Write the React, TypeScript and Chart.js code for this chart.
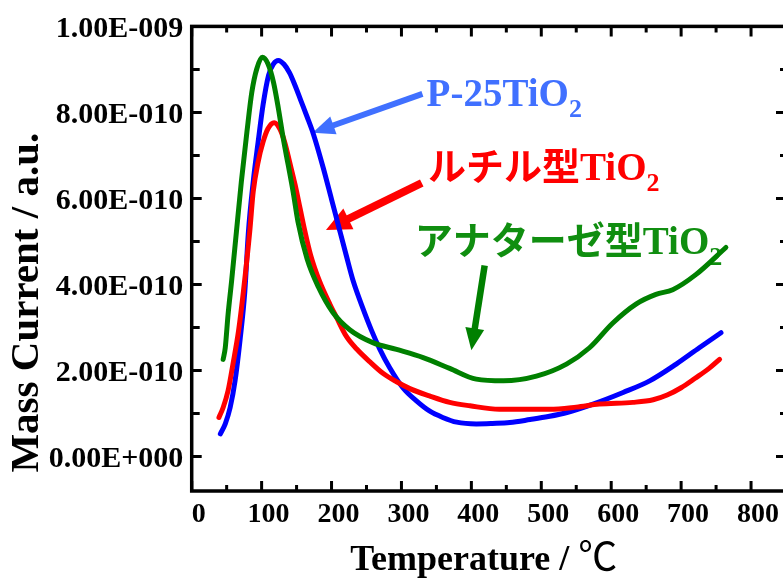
import React, { useEffect, useRef } from 'react';
import { Chart, registerables } from 'chart.js';

Chart.register(...registerables);

// P-25 TiO2
const p25Temp = [41, 48, 55, 62, 69, 76, 81, 88, 95, 102, 110, 117, 124, 132, 140, 148, 156, 165, 174, 188, 200, 210, 221, 231, 245, 257, 269, 283, 302, 321, 340, 359, 379, 407, 430, 455, 484, 510, 538, 574, 617, 655, 693, 726, 757];
const p25Current = [0.53e-10, 0.76e-10, 1.14e-10, 1.76e-10, 2.69e-10, 3.84e-10, 5.2e-10, 6.39e-10, 7.31e-10, 8.17e-10, 8.87e-10, 9.13e-10, 9.21e-10, 9.12e-10, 8.92e-10, 8.62e-10, 8.28e-10, 7.9e-10, 7.5e-10, 6.72e-10, 5.98e-10, 5.36e-10, 4.68e-10, 4.08e-10, 3.44e-10, 2.94e-10, 2.5e-10, 2.07e-10, 1.6e-10, 1.3e-10, 1.06e-10, 0.91e-10, 0.8e-10, 0.76e-10, 0.77e-10, 0.79e-10, 0.86e-10, 0.93e-10, 1.03e-10, 1.22e-10, 1.49e-10, 1.76e-10, 2.15e-10, 2.53e-10, 2.88e-10];

// rutile TiO2
const rutileTemp = [39, 45, 52, 59, 67, 74, 83, 88, 95, 102, 109, 118, 126, 133, 140, 148, 155, 162, 170, 183, 198, 207, 221, 236, 255, 274, 293, 312, 340, 369, 398, 440, 484, 512, 550, 583, 631, 660, 680, 700, 720, 740, 755];
const rutileCurrent = [0.91e-10, 1.14e-10, 1.53e-10, 2.15e-10, 2.92e-10, 3.84e-10, 5.23e-10, 6.16e-10, 6.85e-10, 7.31e-10, 7.62e-10, 7.76e-10, 7.62e-10, 7.31e-10, 6.85e-10, 6.31e-10, 5.77e-10, 5.23e-10, 4.69e-10, 4.07e-10, 3.53e-10, 3.24e-10, 2.8e-10, 2.5e-10, 2.2e-10, 1.93e-10, 1.74e-10, 1.58e-10, 1.41e-10, 1.26e-10, 1.18e-10, 1.1e-10, 1.1e-10, 1.1e-10, 1.15e-10, 1.22e-10, 1.26e-10, 1.32e-10, 1.43e-10, 1.6e-10, 1.82e-10, 2.05e-10, 2.26e-10];

// anatase TiO2
const anataseTemp = [45, 48, 52, 57, 64, 71, 79, 86, 93, 101, 109, 117, 124, 131, 138, 145, 152, 165, 181, 202, 226, 259, 293, 331, 369, 407, 446, 493, 536, 569, 602, 636, 664, 688, 721, 764];
const anataseCurrent = [2.26e-10, 2.53e-10, 3.3e-10, 4.07e-10, 5.23e-10, 6.39e-10, 7.55e-10, 8.47e-10, 9.01e-10, 9.28e-10, 9.13e-10, 8.7e-10, 8.09e-10, 7.39e-10, 6.78e-10, 6.16e-10, 5.46e-10, 4.6e-10, 3.95e-10, 3.35e-10, 2.95e-10, 2.65e-10, 2.49e-10, 2.3e-10, 2.05e-10, 1.8e-10, 1.76e-10, 1.87e-10, 2.15e-10, 2.53e-10, 3.1e-10, 3.55e-10, 3.77e-10, 3.88e-10, 4.23e-10, 4.86e-10];

const xMajorTicks = [0, 100, 200, 300, 400, 500, 600, 700, 800];
const xMinorTicks = [50, 150, 250, 350, 450, 550, 650, 750, 850];
const yMajorTicks = [0, 2e-10, 4e-10, 6e-10, 8e-10, 1e-9];
const yMinorTicks = [1e-10, 3e-10, 5e-10, 7e-10, 9e-10];

const serif = (size: number) => `bold ${size}px "Liberation Serif", "Times New Roman", serif`;
const gothic = (size: number) => `bold ${size}px "Noto Sans CJK JP", sans-serif`;

type Part = { text: string; font: string; dy?: number };
type Note = {
  parts: Part[];
  color: string;
  at: [number, number];
  arrowColor: string;
  from: [number, number];
  to: [number, number];
  width: number;
  headLen: number;
  headWidth: number;
};

const notes: Note[] = [
  {
    parts: [
      { text: 'P-25TiO', font: serif(39) },
      { text: '2', font: serif(26), dy: 11 },
    ],
    color: '#4070ff',
    at: [336, 8.16e-10],
    arrowColor: '#4070ff',
    from: [330, 8.43e-10],
    to: [173, 7.53e-10],
    width: 6,
    headLen: 22,
    headWidth: 19,
  },
  {
    parts: [
      { text: 'ルチル型', font: gothic(38) },
      { text: 'TiO', font: serif(39) },
      { text: '2', font: serif(26), dy: 11 },
    ],
    color: '#ff0000',
    at: [338, 6.42e-10],
    arrowColor: '#ff0000',
    from: [329, 6.36e-10],
    to: [192, 5.27e-10],
    width: 8,
    headLen: 25,
    headWidth: 23,
  },
  {
    parts: [
      { text: 'アナターゼ型', font: gothic(38) },
      { text: 'TiO', font: serif(39) },
      { text: '2', font: serif(26), dy: 11 },
    ],
    color: '#108e10',
    at: [319, 4.71e-10],
    arrowColor: '#008000',
    from: [419, 4.44e-10],
    to: [400, 2.47e-10],
    width: 6.5,
    headLen: 22,
    headWidth: 19,
  },
];

function sciLabel(v: number): string {
  if (Math.abs(v) < 1e-20) return '0.00E+000';
  const e = Math.floor(Math.log10(Math.abs(v)) + 1e-9);
  const m = v / Math.pow(10, e);
  return m.toFixed(2) + 'E' + (e < 0 ? '-' : '+') + String(Math.abs(e)).padStart(3, '0');
}

function series(temp: number[], current: number[]) {
  return temp.map((t, i) => ({ x: t, y: current[i] }));
}

const framePlugin = {
  id: 'frame',
  beforeDatasetsDraw(chart: any) {
    const { ctx, scales } = chart;
    const xs = scales.x;
    const ys = scales.y;
    ctx.save();
    for (const n of notes) {
      // arrow shaft and head
      const x0 = xs.getPixelForValue(n.from[0]);
      const y0 = ys.getPixelForValue(n.from[1]);
      const x1 = xs.getPixelForValue(n.to[0]);
      const y1 = ys.getPixelForValue(n.to[1]);
      const ang = Math.atan2(y1 - y0, x1 - x0);
      const cos = Math.cos(ang);
      const sin = Math.sin(ang);
      const bx = x1 - n.headLen * cos;
      const by = y1 - n.headLen * sin;
      ctx.strokeStyle = n.arrowColor;
      ctx.fillStyle = n.arrowColor;
      ctx.lineWidth = n.width;
      ctx.lineCap = 'butt';
      ctx.beginPath();
      ctx.moveTo(x0, y0);
      ctx.lineTo(bx + 2 * cos, by + 2 * sin);
      ctx.stroke();
      ctx.beginPath();
      ctx.moveTo(x1, y1);
      ctx.lineTo(bx - (n.headWidth / 2) * sin, by + (n.headWidth / 2) * cos);
      ctx.lineTo(bx + (n.headWidth / 2) * sin, by - (n.headWidth / 2) * cos);
      ctx.closePath();
      ctx.fill();
      // label text, with a lowered subscript
      let tx = xs.getPixelForValue(n.at[0]);
      const ty = ys.getPixelForValue(n.at[1]);
      ctx.fillStyle = n.color;
      ctx.textAlign = 'left';
      ctx.textBaseline = 'alphabetic';
      for (const p of n.parts) {
        ctx.font = p.font;
        ctx.fillText(p.text, tx, ty + (p.dy || 0));
        tx += ctx.measureText(p.text).width;
      }
    }
    ctx.restore();
  },
  afterDatasetsDraw(chart: any) {
    const { ctx, chartArea: a, scales } = chart;
    const xs = scales.x;
    const ys = scales.y;
    ctx.save();
    ctx.strokeStyle = '#000';
    ctx.lineWidth = 3;
    ctx.lineCap = 'butt';
    ctx.beginPath();
    const mark = (px: number, py: number, dx: number, dy: number) => {
      ctx.moveTo(px, py);
      ctx.lineTo(px + dx, py + dy);
    };
    // inward tick marks on all four sides
    for (const v of xMajorTicks) {
      const px = xs.getPixelForValue(v);
      mark(px, a.bottom, 0, -10);
      mark(px, a.top, 0, 10);
    }
    for (const v of xMinorTicks) {
      const px = xs.getPixelForValue(v);
      mark(px, a.bottom, 0, -6);
      mark(px, a.top, 0, 6);
    }
    for (const v of yMajorTicks) {
      const py = ys.getPixelForValue(v);
      mark(a.left, py, 10, 0);
      mark(a.right, py, -10, 0);
    }
    for (const v of yMinorTicks) {
      const py = ys.getPixelForValue(v);
      mark(a.left, py, 8, 0);
      mark(a.right, py, -6, 0);
    }
    ctx.stroke();
    ctx.lineWidth = 3.5;
    ctx.strokeRect(a.left, a.top, a.right - a.left, a.bottom - a.top);

    // axis titles
    ctx.fillStyle = '#000';
    ctx.textBaseline = 'alphabetic';
    const xTitle = 'Temperature / ';
    const unit = '℃';
    const unitFont = '39px "Noto Sans CJK JP", sans-serif';
    ctx.font = serif(36);
    const w1 = ctx.measureText(xTitle).width;
    ctx.font = unitFont;
    const w2 = ctx.measureText(unit).width;
    const cx = (a.left + a.right) / 2 - 5;
    const start = cx - (w1 + w2) / 2;
    ctx.textAlign = 'left';
    ctx.font = serif(36);
    ctx.fillText(xTitle, start, 570);
    ctx.font = unitFont;
    ctx.fillText(unit, start + w1, 570);

    ctx.translate(27.5, (a.top + a.bottom) / 2 + 44);
    ctx.rotate(-Math.PI / 2);
    ctx.textAlign = 'center';
    ctx.textBaseline = 'middle';
    ctx.font = serif(41);
    ctx.fillText('Mass Current / a.u.', 0, 0);
    ctx.restore();
  },
};

export default function App() {
  const ref = useRef<HTMLCanvasElement | null>(null);

  useEffect(() => {
    if (!ref.current) return;
    const line = (data: { x: number; y: number }[], color: string) => ({
      data,
      borderColor: color,
      backgroundColor: color,
      borderWidth: 5,
      pointRadius: 0,
      fill: false,
      cubicInterpolationMode: 'monotone' as const,
      borderCapStyle: 'round' as const,
      borderJoinStyle: 'round' as const,
    });
    const chart = new Chart(ref.current, {
      type: 'line',
      data: {
        datasets: [
          line(series(anataseTemp, anataseCurrent), '#008000'),
          line(series(rutileTemp, rutileCurrent), '#ff0000'),
          line(series(p25Temp, p25Current), '#0000ff'),
        ],
      },
      options: {
        responsive: false,
        animation: false,
        devicePixelRatio: 1,
        layout: { padding: { left: 0, top: 23.5, right: 14, bottom: 0 } },
        plugins: {
          legend: { display: false },
          tooltip: { enabled: false },
        },
        scales: {
          x: {
            type: 'linear',
            min: 0,
            max: 850,
            grid: { display: false, drawTicks: false },
            border: { display: false },
            ticks: {
              color: '#000',
              font: { family: '"Liberation Serif", "Times New Roman", serif', size: 28, weight: 'bold' },
              labelOffset: 7,
              padding: 7,
              maxRotation: 0,
              autoSkip: false,
            },
            afterBuildTicks: (s: any) => {
              s.ticks = xMajorTicks.map((v) => ({ value: v }));
            },
            afterFit: (s: any) => {
              s.height = 87;
            },
          },
          y: {
            type: 'linear',
            min: -0.8e-10,
            max: 1e-9,
            grid: { display: false, drawTicks: false },
            border: { display: false },
            ticks: {
              color: '#000',
              font: { family: '"Liberation Serif", "Times New Roman", serif', size: 30, weight: 'bold' },
              labelOffset: 3,
              padding: 8.4,
              autoSkip: false,
              callback: (v: any) => sciLabel(Number(v)),
            },
            afterBuildTicks: (s: any) => {
              s.ticks = yMajorTicks.map((v) => ({ value: v }));
            },
            afterFit: (s: any) => {
              s.width = 191.7;
            },
          },
        },
      },
      plugins: [framePlugin],
    });
    return () => chart.destroy();
  }, []);

  return (
    <div
      style={{
        position: 'fixed',
        left: 0,
        top: 0,
        width: 783,
        height: 578,
        overflow: 'hidden',
        background: '#fff',
      }}
    >
      <canvas ref={ref} width={800} height={578} style={{ display: 'block' }} />
    </div>
  );
}
